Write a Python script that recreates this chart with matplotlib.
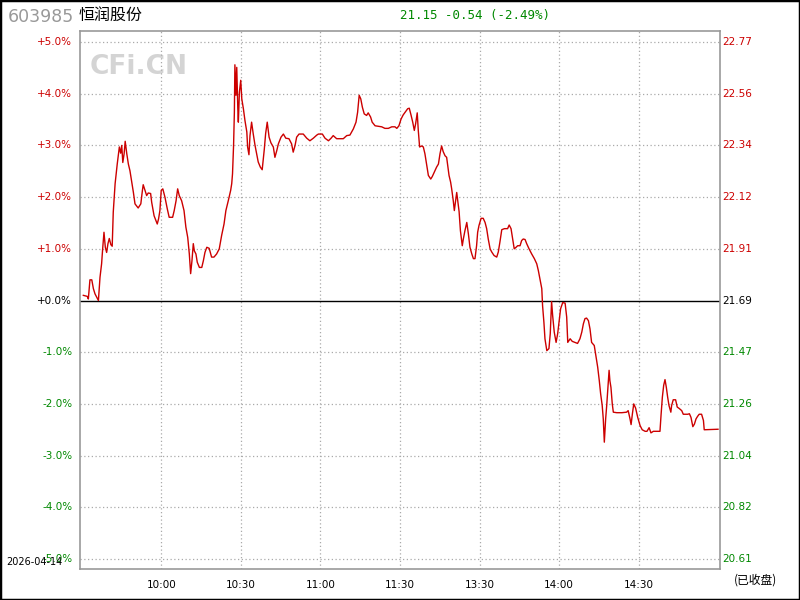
import matplotlib
matplotlib.use('Agg')
import matplotlib.pyplot as plt
from matplotlib.patches import Rectangle

plt.rcParams['font.family'] = ['DejaVu Sans', 'Noto Sans CJK SC']

# 行情数据 (分钟, 涨跌幅%)
code = '603985'
name = '恒润股份'
last_price = 21.15
change = -0.54
change_pct = -2.49
pre_close = 21.69
date_str = '2026-04-14'

minutes = [0.5, 2.0, 2.4, 3.0, 3.7, 4.3, 4.9, 6.2, 6.8, 7.4, 7.8, 8.3, 8.8, 9.3, 9.8, 10.3, 10.9, 11.4,
           11.8, 12.5, 13.3, 14.1, 14.6, 15.0, 15.4, 15.9, 16.3, 16.9, 17.5, 18.1, 18.8, 19.4, 20.0,
           21.2, 22.2, 22.8, 23.1, 23.8, 24.4, 25.0, 25.9, 26.3, 27.2, 27.9, 28.4, 28.9, 29.4, 29.9,
           30.5, 31.3, 32.2, 32.9, 34.2, 34.8, 35.5, 36.1, 36.7, 37.6, 38.5, 39.2, 39.9, 40.5, 41.0,
           41.5, 42.0, 42.4, 43.0, 43.5, 44.3, 45.2, 45.8, 46.4, 47.1, 48.0, 48.9, 49.8, 50.8, 51.8,
           52.7, 53.6, 54.3, 55.2, 56.1, 56.5, 56.8, 57.2, 57.5, 57.7, 58.1, 58.4, 58.8, 59.0, 59.4,
           59.9, 60.3, 60.9, 61.5, 62.2, 62.5, 63.0, 63.4, 64.0, 64.6, 65.3, 65.9, 66.5, 67.3, 68.0,
           68.8, 69.3, 69.9, 70.6, 71.3, 72.2, 72.8, 73.5, 74.1, 75.1, 76.0, 76.9, 78.1, 79.1, 79.7,
           80.4, 81.0, 81.9, 83.5, 84.8, 86.0, 87.3, 88.6, 89.2, 90.7, 91.7, 93.0, 94.0, 94.8, 96.1,
           98.6, 99.9, 101.1, 102.4, 103.4, 104.0, 104.6, 105.2, 105.8, 106.5, 107.4, 108.0, 108.9,
           109.5, 110.6, 113.1, 114.3, 115.6, 116.9, 118.1, 118.8, 119.6, 120.4, 121.2, 122.2, 122.9,
           123.5, 124.2, 124.8, 125.4, 125.9, 126.5, 126.9, 127.4, 128.2, 128.8, 129.4, 130.1, 130.7,
           131.6, 132.2, 132.9, 133.8, 134.5, 135.1, 135.7, 136.3, 137.0, 137.6, 138.0, 138.5, 139.1,
           139.5, 140.1, 140.5, 141.0, 141.4, 141.8, 142.3, 142.8, 143.5, 143.9, 144.5, 145.2, 145.8,
           146.4, 147.1, 147.7, 148.3, 148.9, 149.3, 149.8, 150.6, 151.4, 152.1, 152.7, 153.3, 154.0,
           154.6, 155.5, 156.5, 157.1, 157.7, 158.4, 159.4, 160.6, 161.2, 161.9, 162.5, 163.1, 163.8,
           164.4, 165.3, 165.9, 166.5, 167.2, 167.8, 168.7, 169.7, 170.7, 171.6, 172.2, 172.8, 173.5,
           173.8, 174.3, 174.7, 175.4, 176.2, 176.7, 177.2, 177.6, 178.2, 178.9, 179.5, 180.0, 180.6,
           181.4, 182.3, 182.9, 183.3, 184.2, 185.0, 186.0, 187.0, 187.9, 188.6, 189.2, 189.8, 190.4,
           191.1, 191.7, 192.3, 193.3, 193.9, 194.6, 195.2, 195.7, 196.3, 196.7, 197.1, 197.6, 198.0,
           198.4, 198.9, 199.2, 199.6, 200.1, 200.5, 201.8, 203.7, 205.5, 206.1, 206.8, 207.2, 207.7,
           208.2, 208.9, 209.7, 210.6, 211.4, 212.5, 213.2, 214.0, 214.7, 215.6, 218.1, 218.5, 219.0,
           219.5, 220.0, 220.5, 221.0, 221.5, 222.2, 222.5, 223.1, 224.0, 224.6, 225.4, 226.3, 226.9,
           228.6, 229.2, 229.8, 230.5, 231.1, 231.7, 232.3, 232.9, 233.8, 234.5, 234.8, 240.0]

pct = [0.10, 0.08, 0.03, 0.40, 0.40, 0.23, 0.13, 0.00, 0.45, 0.71, 1.00, 1.32, 1.03, 0.93, 1.10, 1.20, 1.08, 1.05,
       1.71, 2.26, 2.64, 2.97, 2.85, 3.00, 2.67, 2.84, 3.08, 2.84, 2.64, 2.51, 2.29, 2.09, 1.87,
       1.79, 1.87, 2.13, 2.24, 2.13, 2.03, 2.08, 2.07, 1.90, 1.64, 1.55, 1.48, 1.58, 1.74, 2.13,
       2.16, 2.00, 1.77, 1.61, 1.61, 1.74, 1.93, 2.16, 2.03, 1.93, 1.74, 1.42, 1.22, 0.90, 0.52,
       0.77, 1.10, 0.96, 0.90, 0.74, 0.64, 0.64, 0.77, 0.93, 1.03, 1.01, 0.84, 0.84, 0.90, 1.00,
       1.26, 1.48, 1.74, 1.93, 2.13, 2.26, 2.45, 3.00, 3.64, 4.56, 3.97, 4.51, 3.71, 3.45, 4.03,
       4.26, 3.90, 3.71, 3.48, 3.26, 2.97, 2.82, 3.19, 3.45, 3.23, 3.00, 2.84, 2.68, 2.58, 2.53,
       2.93, 3.23, 3.45, 3.16, 3.05, 2.97, 2.77, 2.90, 3.03, 3.16, 3.22, 3.14, 3.13, 3.03, 2.87,
       3.00, 3.16, 3.22, 3.22, 3.14, 3.09, 3.14, 3.20, 3.22, 3.22, 3.14, 3.09, 3.14, 3.19, 3.13,
       3.13, 3.19, 3.20, 3.32, 3.45, 3.64, 3.97, 3.90, 3.74, 3.61, 3.58, 3.63, 3.55,
       3.45, 3.38, 3.36, 3.33, 3.33, 3.36, 3.36, 3.33, 3.38, 3.51, 3.59, 3.66, 3.71,
       3.72, 3.58, 3.45, 3.29, 3.42, 3.63, 3.29, 2.97, 2.99, 2.97, 2.84, 2.61, 2.42,
       2.35, 2.40, 2.48, 2.58, 2.64, 2.84, 2.99, 2.88, 2.80, 2.77, 2.61, 2.42, 2.29,
       2.16, 1.93, 1.74, 1.93, 2.09, 1.93, 1.72, 1.35, 1.06, 1.19, 1.35, 1.51, 1.29,
       1.03, 0.90, 0.81, 0.81, 1.06, 1.32, 1.45, 1.59, 1.59, 1.51, 1.39, 1.19, 1.00,
       0.94, 0.87, 0.84, 0.94, 1.13, 1.37, 1.39, 1.39, 1.46, 1.39, 1.19, 1.00, 1.03,
       1.06, 1.06, 1.16, 1.19, 1.18, 1.10, 1.00, 0.90, 0.81, 0.71, 0.58, 0.42, 0.23,
       -0.10, -0.42, -0.74, -0.97, -0.93, -0.64, -0.02, -0.29, -0.61, -0.81, -0.64, -0.42, -0.16,
       -0.04, -0.05, -0.32, -0.81, -0.74, -0.79, -0.81, -0.83, -0.74, -0.61, -0.45, -0.35, -0.34,
       -0.39, -0.55, -0.81, -0.87, -1.06, -1.29, -1.55, -1.80, -2.03, -2.29, -2.74, -2.29, -2.03,
       -1.74, -1.35, -1.55, -1.68, -2.00, -2.16, -2.17, -2.17, -2.16, -2.13, -2.29, -2.40, -2.19,
       -2.00, -2.08, -2.26, -2.42, -2.50, -2.53, -2.53, -2.46, -2.56, -2.53, -2.53, -2.22, -1.87,
       -1.64, -1.53, -1.68, -1.87, -2.03, -2.16, -2.03, -1.92, -1.92, -2.06, -2.09, -2.13, -2.20,
       -2.20, -2.19, -2.26, -2.44, -2.39, -2.29, -2.24, -2.20, -2.20, -2.32, -2.50, -2.49]

pct_levels = [5, 4, 3, 2, 1, 0, -1, -2, -3, -4, -5]
time_ticks = [30, 60, 90, 120, 150, 180, 210]
time_labels = ['10:00', '10:30', '11:00', '11:30', '13:30', '14:00', '14:30']

RED = '#cc0000'
GREEN = '#008800'

fig = plt.figure(figsize=(8, 6), dpi=100)
fig.patch.set_facecolor('white')
fig.patches.append(Rectangle((0, 0), 1, 1, transform=fig.transFigure, fill=False,
                             edgecolor='black', linewidth=2.5))

ax = fig.add_axes([0.1, 0.0517, 0.8, 0.8966])
ax.set_xlim(-0.75, 240.75)
ax.set_ylim(-5.193, 5.213)
for s in ax.spines.values():
    s.set_color('#999999')
    s.set_linewidth(1.2)
ax.set_xticks([])
ax.set_yticks([])

# 网格
for lv in pct_levels:
    if lv == 0:
        ax.axhline(0, color='black', linewidth=1.0, zorder=2)
    else:
        ax.axhline(lv, color='#aaaaaa', linestyle=(0, (1, 2)), linewidth=0.9, zorder=1)
for t in time_ticks:
    ax.axvline(t, color='#aaaaaa', linestyle=(0, (1, 2)), linewidth=0.9, zorder=1)

# 水印
ax.text(0.015, 0.958, 'CFi.CN', transform=ax.transAxes, fontsize=19, fontweight='bold',
        color='#d4d4d4', ha='left', va='top', zorder=0)

ax.plot(minutes, pct, color=RED, linewidth=1.0, zorder=3)

# 左右刻度
for lv in pct_levels:
    c = RED if lv > 0 else (GREEN if lv < 0 else 'black')
    lab = ('+%.1f%%' % lv) if lv >= 0 else ('%.1f%%' % lv)
    ax.text(-0.012, lv, lab, transform=ax.get_yaxis_transform(), ha='right', va='center',
            fontsize=7.5, color=c)
    price = pre_close * (1 + lv / 100.0)
    ax.text(1.004, lv, '%.2f' % price, transform=ax.get_yaxis_transform(), ha='left',
            va='center', fontsize=7.5, color=c)

for t, lab in zip(time_ticks, time_labels):
    ax.text(t, -0.02, lab, transform=ax.get_xaxis_transform(), ha='center', va='top',
            fontsize=7.5, color='black')

fig.text(0.944, 0.033, '(已收盘)', ha='center', va='center', fontsize=8.5,
         family=['Noto Sans CJK SC', 'DejaVu Sans'])
fig.text(0.008, 0.063, date_str, ha='left', va='center', fontsize=7)

# 标题
fig.text(0.01, 0.972, code, ha='left', va='center', fontsize=12.5, color='#999999')
fig.text(0.098, 0.974, name, ha='left', va='center', fontsize=11.5,
         family=['Noto Sans CJK SC', 'DejaVu Sans'])
fig.text(0.594, 0.974, '%.2f %.2f (%.2f%%)' % (last_price, change, change_pct),
         ha='center', va='center', fontsize=9, color=GREEN, family='DejaVu Sans Mono')

fig.savefig('out.png', dpi=100)
